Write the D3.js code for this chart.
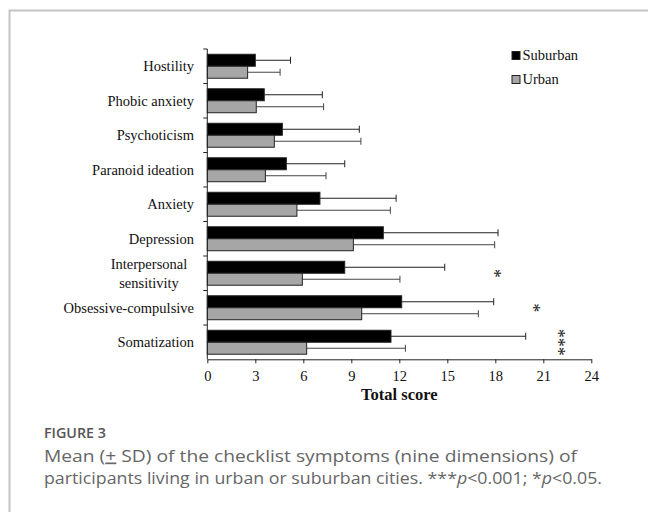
<!DOCTYPE html>
<html>
<head>
<meta charset="utf-8">
<script src="https://cdn.jsdelivr.net/npm/d3@7"></script>
<style>
  html, body { margin: 0; padding: 0; background: #fff; }
  svg { display: block; }
</style>
</head>
<body>
<svg id="chart" width="648" height="512"></svg>
<script>
const categories = ["Hostility", "Phobic anxiety", "Psychoticism", "Paranoid ideation", "Anxiety", "Depression", "Interpersonal sensitivity", "Obsessive-compulsive", "Somatization"];
const series = ["Suburban", "Urban"];
const suburbanMean = [3.0, 3.56, 4.69, 4.94, 7.04, 11.0, 8.59, 12.15, 11.48];
const suburbanSD   = [2.2, 3.63, 4.81, 3.65, 4.76, 7.17, 6.25, 5.75, 8.42];
const urbanMean    = [2.52, 3.06, 4.19, 3.63, 5.6, 9.13, 5.94, 9.65, 6.21];
const urbanSD      = [2.03, 4.21, 5.41, 3.79, 5.84, 8.83, 6.1, 7.29, 6.17];
const significance = ["", "", "", "", "", "", "*", "*", "***"];
const sigPosition  = [0, 0, 0, 0, 0, 0, 18.1, 20.5, 22.05];
const xTicks = [0, 3, 6, 9, 12, 15, 18, 21, 24];

const svg = d3.select("#chart");
const serif = "'Liberation Serif', 'Times New Roman', serif";

// card border
svg.append("path")
  .attr("d", "M9.5,512 L9.5,10.5 L648,10.5")
  .attr("fill", "none").attr("stroke", "#c4c4c4").attr("stroke-width", 2);

const x = d3.scaleLinear().domain([0, 24]).range([207.3, 591.3]);
const y = d3.scaleBand().domain(categories).range([49, 359.5]).padding(0);
const sub = d3.scaleBand().domain(series).range([0, y.bandwidth()]).paddingInner(0).paddingOuter(0.44);

const rows = categories.map((c, i) => ({
  cat: c,
  vals: [
    {s: "Suburban", m: suburbanMean[i], sd: suburbanSD[i]},
    {s: "Urban", m: urbanMean[i], sd: urbanSD[i]}
  ],
  sig: significance[i],
  sigX: sigPosition[i]
}));

const fills = {Suburban: "#000", Urban: "#a6a6a6"};
const errColor = {Suburban: "#222", Urban: "#444"};

const g = svg.append("g");
const rowG = g.selectAll("g.row").data(rows).join("g")
  .attr("transform", d => `translate(0,${y(d.cat)})`);

// error bars first
rowG.selectAll("g.err").data(d => d.vals).join("g").each(function(d) {
  const sel = d3.select(this);
  const cy = sub(d.s) + sub.bandwidth() / 2;
  sel.append("line")
    .attr("x1", x(d.m)).attr("x2", x(d.m + d.sd))
    .attr("y1", cy).attr("y2", cy)
    .attr("stroke", errColor[d.s]).attr("stroke-width", 1);
  sel.append("line")
    .attr("x1", x(d.m + d.sd)).attr("x2", x(d.m + d.sd))
    .attr("y1", cy - 3.5).attr("y2", cy + 3.5)
    .attr("stroke", errColor[d.s]).attr("stroke-width", 1);
});

rowG.selectAll("rect").data(d => d.vals).join("rect")
  .attr("x", x(0))
  .attr("y", d => sub(d.s))
  .attr("width", d => x(d.m) - x(0))
  .attr("height", sub.bandwidth())
  .attr("fill", d => fills[d.s])
  .attr("stroke", "#222")
  .attr("stroke-width", 1);

// significance stars: one text, rotated so the asterisks stack vertically
rowG.filter(d => d.sig).each(function(d) {
  const cy = y.bandwidth() / 2;
  d3.select(this).append("g")
    .attr("transform", `translate(${x(d.sigX)},${cy}) rotate(90)`)
    .append("text")
    .attr("x", 0).attr("y", 8.5)
    .attr("text-anchor", "middle")
    .attr("font-family", serif).attr("font-size", 18)
    .attr("fill", "#222")
    .text(d.sig);
});

// x axis
const xAxis = g.append("g").attr("transform", "translate(0,359.3)")
  .call(d3.axisBottom(x).tickValues(xTicks).tickSize(4).tickSizeOuter(0).tickPadding(7));
xAxis.select(".domain").attr("stroke", "#222");
xAxis.selectAll(".tick line").attr("stroke", "#222");
xAxis.selectAll(".tick text").attr("font-family", serif).attr("font-size", 14.5).attr("fill", "#111");

// y axis line + boundary ticks
g.append("line").attr("x1", x(0)).attr("x2", x(0)).attr("y1", 49).attr("y2", 359.3).attr("stroke", "#222");
const bounds = categories.map(c => y(c));
g.selectAll("line.bt").data(bounds).join("line")
  .attr("x1", x(0) - 4).attr("x2", x(0))
  .attr("y1", d => d).attr("y2", d => d)
  .attr("stroke", "#222");

// category labels
rowG.each(function(d) {
  const sel = d3.select(this);
  const cy = y.bandwidth() / 2;
  if (d.cat === "Interpersonal sensitivity") {
    const t = sel.append("text")
      .attr("text-anchor", "middle")
      .attr("font-family", serif).attr("font-size", 14.5).attr("fill", "#111");
    t.append("tspan").attr("x", 149).attr("y", cy - 4).text("Interpersonal");
    t.append("tspan").attr("x", 149).attr("y", cy + 15).text("sensitivity");
  } else {
    sel.append("text")
      .attr("x", 194).attr("y", cy + 5)
      .attr("text-anchor", "end")
      .attr("font-family", serif).attr("font-size", 14.5).attr("fill", "#111")
      .text(d.cat);
  }
});

// axis title
svg.append("text")
  .attr("x", (x(0) + x(24)) / 2).attr("y", 400)
  .attr("text-anchor", "middle")
  .attr("font-family", serif).attr("font-size", 16.5).attr("font-weight", "bold")
  .attr("fill", "#111")
  .text("Total score");

// legend
const legend = svg.append("g").attr("transform", "translate(512,51.5)");
series.forEach((s, i) => {
  legend.append("rect")
    .attr("x", 0).attr("y", i * 24)
    .attr("width", 8).attr("height", 8)
    .attr("fill", fills[s]).attr("stroke", "#222").attr("stroke-width", 1);
  legend.append("text")
    .attr("x", 10.5).attr("y", i * 24 + 8.5)
    .attr("font-family", serif).attr("font-size", 14.5).attr("fill", "#111")
    .text(s);
});

// caption
const sans = "'Open Sans', Lato, sans-serif";
svg.append("text")
  .attr("x", 44).attr("y", 438)
  .attr("font-family", sans).attr("font-size", 13.5).attr("font-weight", "600")
  .attr("fill", "#555")
  .attr("textLength", 62).attr("lengthAdjust", "spacingAndGlyphs")
  .text("FIGURE 3");
const cap1 = svg.append("text")
  .attr("x", 44).attr("y", 461.5)
  .attr("font-family", sans).attr("font-size", 17).attr("fill", "#666")
  .attr("textLength", 533).attr("lengthAdjust", "spacingAndGlyphs");
cap1.append("tspan").text("Mean (");
cap1.append("tspan").attr("text-decoration", "underline").text("+");
cap1.append("tspan").text(" SD) of the checklist symptoms (nine dimensions) of");
const cap2 = svg.append("text")
  .attr("x", 44).attr("y", 484)
  .attr("font-family", sans).attr("font-size", 17).attr("fill", "#666")
  .attr("textLength", 558).attr("lengthAdjust", "spacingAndGlyphs");
cap2.append("tspan").text("participants living in urban or suburban cities. ***");
cap2.append("tspan").attr("font-style", "italic").text("p");
cap2.append("tspan").text("<0.001; *");
cap2.append("tspan").attr("font-style", "italic").text("p");
cap2.append("tspan").text("<0.05.");
</script>
</body>
</html>
